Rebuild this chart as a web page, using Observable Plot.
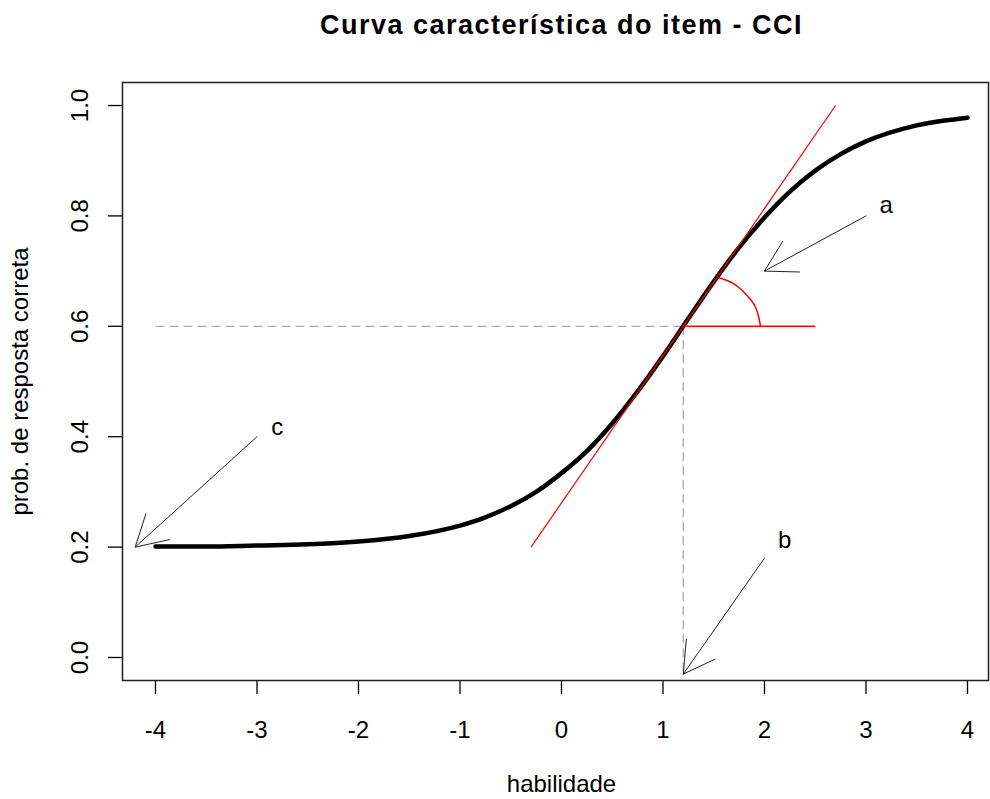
<!DOCTYPE html>
<html><head><meta charset="utf-8">
<script src="https://cdn.jsdelivr.net/npm/d3@7"></script>
<script src="https://cdn.jsdelivr.net/npm/@observablehq/plot@0.6"></script>
<style>body{margin:0;background:#fff}</style>
</head><body><div id="chart"></div>
<script>
const titleText = "Curva característica do item - CCI";
const xLabel = "habilidade";
const yLabel = "prob. de resposta correta";
const xTicks = [-4, -3, -2, -1, 0, 1, 2, 3, 4];
const xTickLabels = ["-4", "-3", "-2", "-1", "0", "1", "2", "3", "4"];
const yTicks = [0, 0.2, 0.4, 0.6, 0.8, 1.0];
const yTickLabels = ["0.0", "0.2", "0.4", "0.6", "0.8", "1.0"];

// item characteristic curve
const theta = [-4, -3.5, -3, -2.5, -2, -1.5, -1, -0.75, -0.5, -0.25, 0, 0.25, 0.5, 0.75, 1, 1.25, 1.5, 1.75, 2, 2.25, 2.5, 2.75, 3, 3.5, 4];
const prob  = [0.201, 0.201, 0.203, 0.205, 0.210, 0.220, 0.239, 0.254, 0.274, 0.300, 0.334, 0.374, 0.424, 0.482, 0.546, 0.614, 0.681, 0.743, 0.797, 0.844, 0.882, 0.912, 0.935, 0.964, 0.978];

// tangent at b and angle marker
const tangentX = [-0.3, 2.7];
const tangentY = [0.2, 1.0];
const baseX = [1.2, 2.5];
const baseY = [0.6, 0.6];
const arcX = [1.550, 1.698, 1.829, 1.911, 1.944, 1.961];
const arcY = [0.688, 0.677, 0.656, 0.635, 0.616, 0.601];

// dashed guides
const guideHX = [-4, 1.2];
const guideHY = [0.6, 0.6];
const guideVX = [1.2, 1.2];
const guideVY = [0.6, -0.03];

// arrows and their letters
const arrowX1 = [3.0, 2.0, -3.0];
const arrowY1 = [0.8, 0.18, 0.4];
const arrowX2 = [2.0, 1.2, -4.2];
const arrowY2 = [0.7, -0.03, 0.2];
const letterText = ["a", "b", "c"];
const letterX = [3.2, 2.2, -2.8];
const letterY = [0.819, 0.212, 0.417];

const curve = theta.map((t, i) => ({t, p: prob[i]}));
const seg = (xs, ys) => [{x1: xs[0], y1: ys[0], x2: xs[1], y2: ys[1]}];
const arc = arcX.map((x, i) => ({x, y: arcY[i]}));
const arrows = arrowX1.map((x, i) => ({x1: x, y1: arrowY1[i], x2: arrowX2[i], y2: arrowY2[i]}));
const letters = letterText.map((t, i) => ({t, x: letterX[i], y: letterY[i]}));
const L = {x1: "x1", y1: "y1", x2: "x2", y2: "y2"};

const plot = Plot.plot({
  width: 990, height: 799,
  marginTop: 82, marginBottom: 119, marginLeft: 122, marginRight: 2,
  x: {domain: [-4.325, 4.207]},
  y: {domain: [-0.0417, 1.0417]},
  style: {fontFamily: "'Liberation Sans', Arial, sans-serif", fontSize: "24px", background: "white", color: "black"},
  marks: [
    Plot.axisX(xTicks, {tickSize: 14, tickFormat: () => "", label: null, strokeWidth: 1.3}),
    Plot.axisY(yTicks, {tickSize: 14, tickFormat: () => "", label: null, strokeWidth: 1.3}),
    Plot.frame({stroke: "#222", strokeWidth: 1.5}),
    Plot.text(xTicks, {x: d => d, text: (d, i) => xTickLabels[i], frameAnchor: "bottom", dy: 50, lineAnchor: "middle", textAnchor: "middle"}),
    Plot.text(yTicks, {y: d => d, text: (d, i) => yTickLabels[i], frameAnchor: "left", dx: -42, rotate: -90, lineAnchor: "middle", textAnchor: "middle"}),
    Plot.text([xLabel], {text: d => d, frameAnchor: "bottom", dy: 104, dx: 6, lineAnchor: "middle", textAnchor: "middle"}),
    Plot.text([yLabel], {text: d => d, frameAnchor: "left", dx: -102, rotate: -90, lineAnchor: "middle", textAnchor: "middle"}),
    Plot.text([titleText], {text: d => d, frameAnchor: "top", dy: -57, dx: 6, lineAnchor: "middle", textAnchor: "middle", fontWeight: "bold", fontSize: 27}),
    Plot.link(seg(guideHX, guideHY), {...L, stroke: "#aaa", strokeWidth: 1.3, strokeDasharray: "9,5"}),
    Plot.link(seg(guideVX, guideVY), {...L, stroke: "#aaa", strokeWidth: 1.3, strokeDasharray: "9,5"}),
    Plot.line(curve, {x: "t", y: "p", stroke: "black", strokeWidth: 4.5, curve: "monotone-x"}),
    Plot.link(seg(tangentX, tangentY), {...L, stroke: "red", strokeWidth: 1.2}),
    Plot.link(seg(baseX, baseY), {...L, stroke: "red", strokeWidth: 1.5}),
    Plot.line(arc, {x: "x", y: "y", stroke: "red", strokeWidth: 1.5, curve: "natural"}),
    Plot.arrow(arrows, {...L, stroke: "#222", strokeWidth: 1, headLength: 52.5, headAngle: 60}),
    Plot.text(letters, {x: "x", y: "y", text: "t", lineAnchor: "middle", textAnchor: "middle"})
  ]
});
plot.querySelectorAll("text").forEach(t => {
  if (t.textContent === titleText) t.setAttribute("letter-spacing", "1.5");
});
document.getElementById("chart").appendChild(plot);
</script>
</body></html>
